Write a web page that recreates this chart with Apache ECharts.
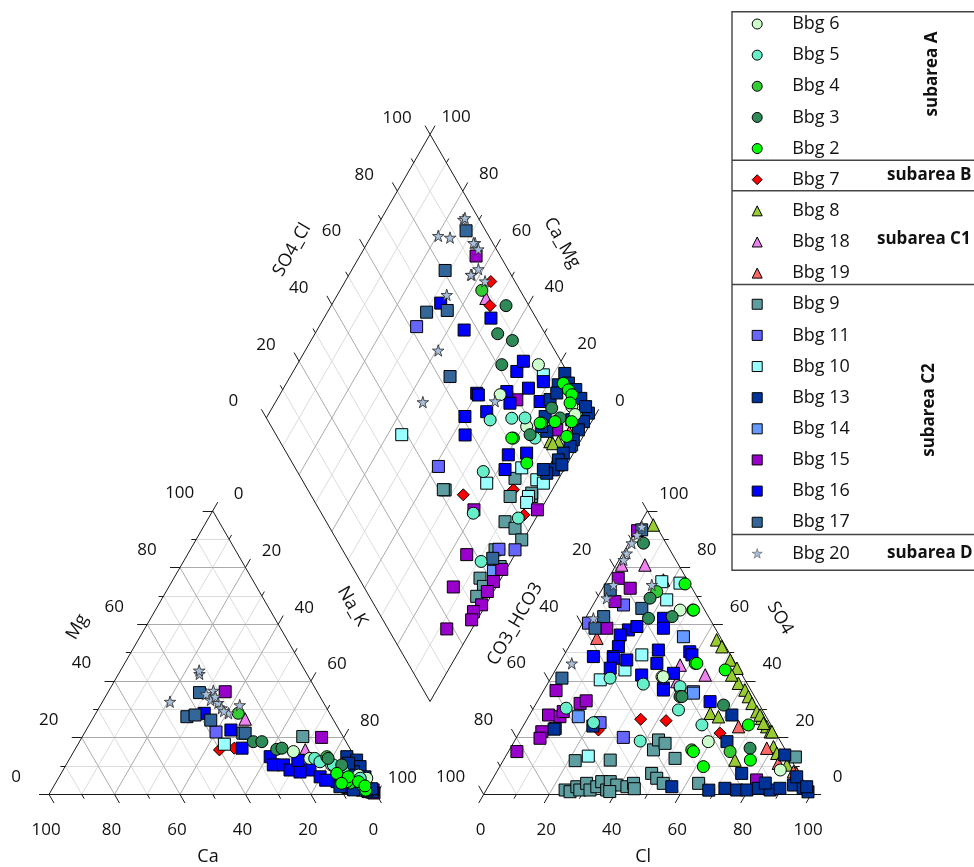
<!DOCTYPE html>
<html><head><meta charset="utf-8">
<script src="https://cdn.jsdelivr.net/npm/echarts@6/dist/echarts.min.js"></script>
<style>html,body{margin:0;padding:0;background:#fff}#c{width:974px;height:867px}</style>
</head><body><div id="c"></div>
<script>
// ================= DATA =================
const tickValues = [0, 20, 40, 60, 80, 100];
const legendOrder = ['Bbg 6','Bbg 5','Bbg 4','Bbg 3','Bbg 2','Bbg 7','Bbg 8','Bbg 18','Bbg 19',
  'Bbg 9','Bbg 11','Bbg 10','Bbg 13','Bbg 14','Bbg 15','Bbg 16','Bbg 17','Bbg 20'];
const subareaLabels = ['subarea A','subarea B','subarea C1','subarea C2','subarea D'];

// cation: [Mg %, Na+K %]; anion: [SO4 %, Cl %]; diamond: [SO4+Cl %, Ca+Mg %]
const bbg6Cation = [[15.1,67.1],[12.7,73.3],[10.4,81.1],[6.8,91.1],[5.7,94.2]];
const bbg6Anion = [[65,27.5],[41.5,33.7],[41.5,34.1],[18.6,59.3],[8.6,86.3]];
const bbg6Diamond = [[92.5,26.3],[95.3,8.7],[94.9,6.3],[75.5,32.7],[78,19]];

const bbg5Cation = [[12.7,74.8],[11.5,77],[8,85.9],[10.4,81.6],[5.7,92.2]];
const bbg5Anion = [[41,18.1],[38.9,29.3],[37.4,41.3],[29.8,44.6],[30.4,10],[25.3,20.9],[18.8,38.4],[38,41],[24.5,54.4]];
const bbg5Diamond = [[68,31.3],[74.9,25],[79,21],[78.5,14.4],[56.8,24.3],[46.4,20],[59.3,5.4],[40.3,9.1]];

const bbg4Cation = [[28.6,43.5],[13.3,78.2],[4,90],[6,86]];
const bbg4Anion = [[71.5,17.1],[15.1,67.7],[15.7,55.7]];
const bbg4Diamond = [[88.3,56.7],[83.2,15],[71.9,21]];

const bbg3Cation = [[18.6,53.1],[18.6,55.7],[15.9,61.6],[16.3,63],[12.7,78.9],[10.4,84.2]];
const bbg3Anion = [[88.6,4.5],[69.2,16.2],[62.1,19.3],[62.7,26.2],[34.5,42.7],[34.5,43.3],[31.5,57.5],[16.3,73.2]];
const bbg3Diamond = [[93,46.6],[85.5,44.2],[88.8,38.5],[81.3,37.5],[88.9,14.6],[89.7,10.3],[77.6,16.5]];

const bbg2Cation = [[7.4,84.2],[4.5,88.7],[6.2,88.3],[2.7,94.7],[4.5,92.3],[3.9,87.4],[1.5,96],[3,95]];
const bbg2Anion = [[74.2,24.4],[65,31.4],[46.2,41.5],[46.2,42],[43.9,51.8],[24.5,68.6],[12.1,75.4],[15.1,56.5],[9.8,62.2],[65,31.6]];
const bbg2Diamond = [[96.8,15.4],[97.2,12.7],[97.4,10.8],[95.4,9.9],[87.5,11.2],[92.6,6.1],[88.5,5],[71.6,12.5],[82.7,15.5],[71.4,21.5]];

const bbg7Cation = [[15.7,44.2],[16.3,48.4],[9.2,73.6]];
const bbg7Anion = [[26.5,34.7],[26,42.7],[22.7,23.7],[21.6,61.4]];
const bbg7Diamond = [[92.6,55.5],[88.1,51.5],[46.6,26.3],[62.8,11.9],[61.6,4.2]];

const bbg8Cation = [[2,95],[3,92],[1,98],[4,90],[1.5,96.5]];
const bbg8Anion = [[95,4.3],[54.5,43.9],[52.1,46.7],[47.4,51.6],[44.5,55.1],[39.2,58.2],[36.8,61.4],[34.5,63.6],
  [32.1,65.9],[29.2,68.8],[26.8,71.5],[23.9,74.5],[22.1,76.5],[16.8,80.1],[14.5,82.3],[28.6,54.9],[27.4,58],
  [12.1,70.7],[42.1,54.7],[28,70.4],[25.1,72.9],[22.1,77],[10.4,87.4]];
const bbg8Diamond = [[82.5,9.2],[85,6.6],[83,8]];

const bbg18Cation = [[26.6,46.6],[15.7,70.4]];
const bbg18Anion = [[80.9,1.7],[80.9,8.8],[45.6,37.2],[39.8,39.1],[42.1,46.6]];
const bbg18Diamond = [[88.2,54],[79.4,4.1]];

const bbg19Cation = [[3,94],[2,96]];
const bbg19Anion = [[75.6,17.1],[55.1,7],[23.9,65.9],[16.3,78.3],[11,84.5],[8,90.6],[7.4,91.9]];
const bbg19Diamond = [[90,5]];

const bbg9Cation = [[20.4,67.3],[21.6,48.4],[2.2,93.4],[1.5,95],[3,92],[1,97],[2.5,90],[4,88],[3,94],[5,91],[2,96]];
const bbg9Anion = [[1.55,24.1],[0.95,25.9],[2.7,27.1],[1.55,28.6],[3.9,29.5],[1.55,31.7],[2.7,33.2],[4.5,33.8],
  [1.55,36.8],[4.5,36.4],[3.3,39],[2.7,42.4],[3.9,43.8],[7.4,47.6],[5.7,50],[3.9,52.9],[15.7,44],[19.2,43.8],
  [12.7,52.1],[11.9,22],[12.1,32.6],[3.9,63.7],[18,46.4],[13.2,88.6],[2,45],[1,38]];
const bbg9Diamond = [[41.9,32.7],[60.6,11.7],[67.2,5.1],[54.6,8.8],[56.5,4.6],[56.5,0.5],[46.6,6.9],[37,6.5],
  [36.6,4],[32.8,4.3],[45.2,2.4],[41.4,33.3],[65.3,13.4],[67.8,5.7]];

const bbg11Cation = [[12,72],[3,91],[2,94],[22,40]];
const bbg11Anion = [[66.8,9.3],[60.4,1.8],[25.3,22.9],[20.1,32.6]];
const bbg11Diamond = [[62,70.2],[47.9,5.8],[52.7,0.8],[44,38.9]];

const bbg10Cation = [[17.7,44.7],[5,90],[8,84]];
const bbg10Anion = [[74.5,22.7],[68.6,21.6],[49.2,23.7],[43.9,21.2],[40.4,15.4],[13.5,25.2],[75,16.9]];
const bbg10Diamond = [[38.4,55.7],[55.8,21.2],[69.2,13.2],[71.7,6.5],[66.2,6.1],[92.2,23],[73.1,3.9],[64.6,5.6]];

const bbg13Cation = [[13.3,84.3],[12.1,87.9],[9.8,90.1],[6.2,93.4],[3.9,94],[1.6,92.2],[2.7,87.5],[0.85,98.3],
  [1.5,96.5],[4.5,93],[8,89],[11,86],[2,97.5],[5,93.5]];
const bbg13Anion = [[2.15,72.6],[1.55,76.5],[1.55,79.6],[2.15,82.8],[1.55,86.7],[2.15,89.4],[3.3,93],[2.15,96.5],
  [6.2,92.5],[7.4,75.1],[13.9,85],[2.7,56.1],[18.6,65],[28,61.8],[0.9,98.6],[2.7,97.3],[24.1,21.3],[23,10],[1.5,68],[4,84]];
const bbg13Diamond = [[99,16.7],[98.4,13.9],[99.5,10.5],[99.5,7.4],[99.2,2.5],[96.2,2.5],[93.2,2.6],[89.9,2.4],
  [87.7,2.2],[84.5,3.1],[81.8,3.4],[78.5,3.2],[75.9,4.6],[89.9,16.6],[85.4,15.1],[83.3,12],[95,16.7],[93,6.4],
  [99.5,4.5],[93.1,15.7],[82.6,14.4],[75.5,6.3],[82,1.5]];

const bbg14Cation = [[3,93],[6,88]];
const bbg14Anion = [[55.6,33.2],[27.4,15.2],[36.2,46],[35.7,46.2]];
const bbg14Diamond = [[88.5,2],[42.3,3.6]];

const bbg15Cation = [[36.2,35.7],[20.1,73.2],[0.5,99],[1.6,98.2],[1,97]];
const bbg15Anion = [[93,0.5],[76.2,3],[72.7,8.4],[68,6.1],[58.6,8.3],[36.6,3.8],[32.1,13.4],[33,14.8],[28,5.8],
  [27.4,9.6],[22.1,6.7],[19.8,7.3],[15.1,2.6],[29.2,9.7],[5.1,80.8]];
const bbg15Diamond = [[92.6,64.5],[79.7,26.7],[86.6,9.2],[80.9,2.5],[47.2,20.4],[66.6,1],[37.1,14.7],[27.3,13.1],
  [45.2,1.4],[40.5,1.8],[36.9,1.9],[32.8,1.3],[29.1,2.6],[27.1,1.7],[17.9,7.7]];

const bbg16Cation = [[28.6,33.1],[22.7,44.2],[16.3,50.8],[13.3,60.9],[10.4,63.3],[10.4,66.4],[8.6,75.4],[6.2,79.7],
  [4.5,85.7],[2.7,90.1],[8.6,69.3],[7.9,72.7],[12,70],[5,82]];
const bbg16Anion = [[58,15.2],[56.2,13.6],[59.2,17.2],[62.1,23.9],[58.6,25.6],[52.1,15.1],[48.6,9.2],[48.6,15.3],
  [50.9,27.9],[50.3,37.8],[48,15.6],[47.4,20],[44.5,16.4],[42.1,27.2],[46.2,29.8],[37.4,36.2],[42.7,36.6],
  [49.2,39],[32.7,52.8],[36.8,36.5]];
const bbg16Diamond = [[75.9,55.1],[86.2,49],[73.5,67],[68.6,40.1],[60.9,39.6],[57.7,36.3],[68.8,39.3],[68.4,33.8],
  [78.1,31.2],[84.7,31.7],[88.5,31.5],[85.3,25.2],[86.5,19.3],[91,21.8],[67.4,19.6],[73.3,14.3],[63.8,18],[77,28.2]];

const bbg17Cation = [[35.9,28],[27.4,28.4],[28,30.6],[26.2,36.3],[21.6,49.1],[3.9,92]];
const bbg17Anion = [[93.3,1.6],[72.1,2.6],[65.6,15.5],[62.7,5.3],[58.6,4.7],[41,3.4],[23.3,10.2]];
const bbg17Diamond = [[94,72],[80.6,71.4],[67.6,69.7],[74.2,63.7],[63.4,51.2],[44.4,6.1]];

const bbg20Cation = [[42.5,24.7],[43.7,24],[32.7,20.6],[36.6,31.9],[33.3,32.7],[32.3,35.5],[30.4,37.5],[28.6,40.5],
  [31.5,42.5],[34.5,33.5],[29.4,38.7],[35.4,30.3]];
const bbg20Anion = [[94.4,1.1],[91.5,1.1],[88.6,0.9],[85,1.2],[82.7,1.4],[73.9,2.7],[69.2,3],[62.1,2.45],[73.9,14.4],[46.2,3.8]];
const bbg20Diamond = [[95.1,74.8],[84.6,79.6],[87.9,75.7],[76.8,66.6],[64.4,59.4],[50.6,55],[88,62.5],[94.6,67.1],
  [95.9,74.6],[94.1,67.6],[94.5,65],[91,61.5],[87.7,62.8],[90.9,57.3],[72.8,33.1]];

// ================= STYLE / GEOMETRY =================
const STAR = 'path://M50,0 L61,35 L98,35 L68,57 L79,91 L50,70 L21,91 L32,57 L2,35 L39,35 Z';
const groups = [
  // draw order (later = on top)
  {name:'Bbg 8', cat:bbg8Cation, an:bbg8Anion, dia:bbg8Diamond, symbol:'triangle', color:'#99cc33'},
  {name:'Bbg 18', cat:bbg18Cation, an:bbg18Anion, dia:bbg18Diamond, symbol:'triangle', color:'#ee82ee'},
  {name:'Bbg 19', cat:bbg19Cation, an:bbg19Anion, dia:bbg19Diamond, symbol:'triangle', color:'#ff6666'},
  {name:'Bbg 7', cat:bbg7Cation, an:bbg7Anion, dia:bbg7Diamond, symbol:'diamond', color:'#ff0000'},
  {name:'Bbg 9', cat:bbg9Cation, an:bbg9Anion, dia:bbg9Diamond, symbol:'rect', color:'#5f9ea0'},
  {name:'Bbg 11', cat:bbg11Cation, an:bbg11Anion, dia:bbg11Diamond, symbol:'rect', color:'#6666ff'},
  {name:'Bbg 10', cat:bbg10Cation, an:bbg10Anion, dia:bbg10Diamond, symbol:'rect', color:'#99ffff'},
  {name:'Bbg 14', cat:bbg14Cation, an:bbg14Anion, dia:bbg14Diamond, symbol:'rect', color:'#6699ff'},
  {name:'Bbg 15', cat:bbg15Cation, an:bbg15Anion, dia:bbg15Diamond, symbol:'rect', color:'#9900cc'},
  {name:'Bbg 16', cat:bbg16Cation, an:bbg16Anion, dia:bbg16Diamond, symbol:'rect', color:'#0000ff'},
  {name:'Bbg 17', cat:bbg17Cation, an:bbg17Anion, dia:bbg17Diamond, symbol:'rect', color:'#336699'},
  {name:'Bbg 13', cat:bbg13Cation, an:bbg13Anion, dia:bbg13Diamond, symbol:'rect', color:'#003399'},
  {name:'Bbg 6', cat:bbg6Cation, an:bbg6Anion, dia:bbg6Diamond, symbol:'circle', color:'#ccffcc'},
  {name:'Bbg 5', cat:bbg5Cation, an:bbg5Anion, dia:bbg5Diamond, symbol:'circle', color:'#66efc9'},
  {name:'Bbg 4', cat:bbg4Cation, an:bbg4Anion, dia:bbg4Diamond, symbol:'circle', color:'#33cc33'},
  {name:'Bbg 3', cat:bbg3Cation, an:bbg3Anion, dia:bbg3Diamond, symbol:'circle', color:'#2e8b57'},
  {name:'Bbg 2', cat:bbg2Cation, an:bbg2Anion, dia:bbg2Diamond, symbol:'circle', color:'#00ff00'},
  {name:'Bbg 20', cat:bbg20Cation, an:bbg20Anion, dia:bbg20Diamond, symbol:STAR, color:'#a9c0dc'}
];
const symbolSizes = {triangle: 12.5, diamond: 12, rect: 12, circle: 12};

const R3 = Math.sqrt(3);
const SIDE = 100, GAP = 32.75, HT = SIDE * R3 / 2;
const AN_X0 = SIDE + GAP;
const DB = [SIDE + GAP / 2, GAP / 2 * R3];
const catPt = (mg, nak) => [nak + mg / 2, mg * HT / 100];
const anPt = (so4, cl) => [AN_X0 + cl + so4 / 2, so4 * HT / 100];
const diaPt = (s, c) => [DB[0] + (s - c) / 2, DB[1] + (s + c) * HT / 100];

const catV = [[0,0],[SIDE,0],[SIDE/2,HT]];
const anV = [[AN_X0,0],[AN_X0+SIDE,0],[AN_X0+SIDE/2,HT]];
const dB = DB, dR = [DB[0]+SIDE/2, DB[1]+HT], dL = [DB[0]-SIDE/2, DB[1]+HT], dT = [DB[0], DB[1]+2*HT];
const lerp = (p, q, t) => [p[0] + (q[0]-p[0])*t, p[1] + (q[1]-p[1])*t];

const minorSeg = [], majorSeg = [], edgeSeg = [], tickSeg = [];
function triGrid(V) {
  for (let k = 1; k < 10; k++) {
    const t = k / 10, tgt = k % 2 === 0 ? majorSeg : minorSeg;
    for (let i = 0; i < 3; i++) {
      const j = (i + 1) % 3, m = (i + 2) % 3;
      tgt.push([lerp(V[j], V[i], t), lerp(V[m], V[i], t)]);
    }
  }
  edgeSeg.push([V[0],V[1]],[V[1],V[2]],[V[2],V[0]]);
}
triGrid(catV); triGrid(anV);
for (let k = 1; k < 10; k++) {
  const t = k / 10, tgt = k % 2 === 0 ? majorSeg : minorSeg;
  tgt.push([lerp(dB, dR, t), lerp(dL, dT, t)]);
  tgt.push([lerp(dB, dL, t), lerp(dR, dT, t)]);
}
edgeSeg.push([dB,dR],[dR,dT],[dT,dL],[dL,dB]);

const UNIT_PX = 3.2743;
const MAJ = 10 / UNIT_PX, MIN = 5 / UNIT_PX;
function ticks(P0, P1, dir) {
  for (let k = 0; k <= 10; k++) {
    const p = lerp(P0, P1, k / 10), len = k % 2 === 0 ? MAJ : MIN;
    tickSeg.push([p, [p[0] + dir[0]*len, p[1] + dir[1]*len]]);
  }
}
ticks(catV[0], catV[1], [0.5, -R3/2]);
ticks(catV[0], catV[2], [-1, 0]);
ticks(catV[2], catV[1], [0.5, R3/2]);
ticks(anV[0], anV[1], [-0.5, -R3/2]);
ticks(anV[0], anV[2], [-0.5, R3/2]);
ticks(anV[2], anV[1], [1, 0]);
ticks(dL, dT, [-0.5, R3/2]);
ticks(dT, dR, [0.5, R3/2]);

const segSeries = (data, color, z) => ({
  type: 'lines', coordinateSystem: 'cartesian2d', silent: true, z: z, animation: false,
  lineStyle: {color: color, width: 1, opacity: 1, curveness: 0},
  data: data.map(s => ({coords: s}))
});

const series = [
  segSeries(minorSeg, '#dcdcdc', 1),
  segSeries(majorSeg, '#ababab', 2),
  segSeries(edgeSeg, '#1a1a1a', 3),
  segSeries(tickSeg, '#1a1a1a', 3)
];
groups.forEach((g, gi) => {
  const pts = [].concat(
    g.cat.map(d => catPt(d[0], d[1])),
    g.an.map(d => anPt(d[0], d[1])),
    g.dia.map(d => diaPt(d[0], d[1]))
  );
  const isStar = g.symbol === STAR;
  series.push({
    type: 'scatter', name: g.name, data: pts, symbol: g.symbol,
    symbolSize: isStar ? 11.5 : symbolSizes[g.symbol], z: 10 + gi, animation: false,
    itemStyle: {color: g.color, borderColor: isStar ? '#333' : '#000', borderWidth: isStar ? 0.9 : 1, opacity: 1},
    emphasis: {disabled: true}
  });
});

const legendData = legendOrder.map(nm => {
  const g = groups.find(x => x.name === nm);
  return {name: nm, icon: g.symbol,
    itemStyle: {color: g.color, borderColor: g.symbol === STAR ? '#555' : '#000', borderWidth: g.symbol === STAR ? 0.6 : 1}};
});

const chart = echarts.init(document.getElementById('c'), null, {renderer: 'canvas'});
chart.setOption({
  animation: false,
  backgroundColor: '#fff',
  grid: {left: 0, right: 0, top: 0, bottom: 0},
  xAxis: {type: 'value', min: -14.97, max: 282.5, show: false},
  yAxis: {type: 'value', min: -22.17, max: 242.6, show: false},
  legend: {
    data: legendData, orient: 'vertical', left: 751.7, top: 15, padding: 0,
    itemWidth: 10, itemHeight: 10, itemGap: 13.14, selectedMode: false,
    textStyle: {fontFamily: 'Open Sans', fontSize: 18, color: '#111', lineHeight: 18, padding: [0, 0, 0, 25]}
  },
  series: series
});

// ================= TEXT (tick labels, titles, legend frame) =================
const toPx = p => chart.convertToPixel({gridIndex: 0}, p);
const FONT = '17px "Open Sans"';
const texts = [];
function addText(px, text, rotDeg, font, align) {
  texts.push({
    type: 'text', x: px[0], y: px[1], rotation: (rotDeg || 0) * Math.PI / 180, silent: true, z: 50,
    style: {text: String(text), font: font || FONT, fill: '#111',
      textAlign: align || 'center', textVerticalAlign: 'middle', align: align || 'center', verticalAlign: 'middle'}
  });
}
function edgeLabels(P0, P1, labelFor, dx, dy) {
  for (let i = 0; i < tickValues.length; i++) {
    const t = tickValues[i] / 100;
    const lab = labelFor(i);
    if (lab === null) continue;
    const p = toPx(lerp(P0, P1, t));
    addText([p[0] + dx, p[1] + dy], lab);
  }
}
const n = tickValues.length;
edgeLabels(catV[0], catV[1], i => tickValues[n-1-i], -3, 35.6);   // Ca
edgeLabels(catV[0], catV[2], i => tickValues[i], -33, -17.5);     // Mg
edgeLabels(catV[2], catV[1], i => tickValues[i], 26, -16.5);      // Na_K
edgeLabels(anV[0], anV[1], i => tickValues[i], -3, 35.6);         // Cl
edgeLabels(anV[0], anV[2], i => (i === n-1 ? null : tickValues[n-1-i]), -33, -17.5); // CO3_HCO3
edgeLabels(anV[2], anV[1], i => tickValues[n-1-i], 26.5, -17);    // SO4
edgeLabels(dL, dT, i => tickValues[i], -33, -16.4);               // SO4_Cl
edgeLabels(dT, dR, i => tickValues[n-1-i], 26, -17);              // Ca_Mg

const TFONT = '18px "Open Sans"';
const titleDefs = [
  {text:'Ca', pt: lerp(catV[0], catV[1], 0.5), dx:-4.7, dy:62.6, rot:0},
  {text:'Cl', pt: lerp(anV[0], anV[1], 0.5), dx:-4.3, dy:62.6, rot:0},
  {text:'Mg', pt: lerp(catV[0], catV[2], 0.6), dx:-70, dy:2.7, rot:60},
  {text:'Na_K', pt: lerp(catV[2], catV[1], 0.4), dx:74, dy:-18, rot:-60},
  {text:'CO3_HCO3', pt: lerp(anV[0], anV[2], 0.5), dx:-50.5, dy:-28.6, rot:60},
  {text:'SO4', pt: lerp(anV[2], anV[1], 0.4), dx:67.2, dy:-6.3, rot:-60},
  {text:'SO4_Cl', pt: lerp(dL, dT, 0.6), dx:-72.5, dy:2, rot:60},
  {text:'Ca_Mg', pt: lerp(dT, dR, 0.4), dx:66.5, dy:-5, rot:-60}
];
titleDefs.forEach(d => { const p = toPx(d.pt); addText([p[0]+d.dx, p[1]+d.dy], d.text, d.rot, TFONT); });

// legend frame and group labels
const frame = [
  {type:'rect', shape:{x:732, y:11.7, width:260, height:558.5}, style:{fill:'none', stroke:'#444', lineWidth:1.4}, silent:true, z:40},
  {type:'line', shape:{x1:732, y1:160.3, x2:974, y2:160.3}, style:{stroke:'#444', lineWidth:1.4}, silent:true, z:40},
  {type:'line', shape:{x1:732, y1:190.8, x2:974, y2:190.8}, style:{stroke:'#444', lineWidth:1.4}, silent:true, z:40},
  {type:'line', shape:{x1:732, y1:284.5, x2:974, y2:284.5}, style:{stroke:'#444', lineWidth:1.4}, silent:true, z:40},
  {type:'line', shape:{x1:732, y1:534.5, x2:974, y2:534.5}, style:{stroke:'#444', lineWidth:1.4}, silent:true, z:40}
];
const BFONT = 'bold 17px "Open Sans"';
addText([932, 74], subareaLabels[0], 90, BFONT);
addText([887, 175], subareaLabels[1], 0, BFONT, 'left');
addText([877, 239], subareaLabels[2], 0, BFONT, 'left');
addText([929, 410], subareaLabels[3], 90, BFONT);
addText([887, 553], subareaLabels[4], 0, BFONT, 'left');

chart.setOption({graphic: {elements: frame.concat(texts)}});
</script>
</body></html>
